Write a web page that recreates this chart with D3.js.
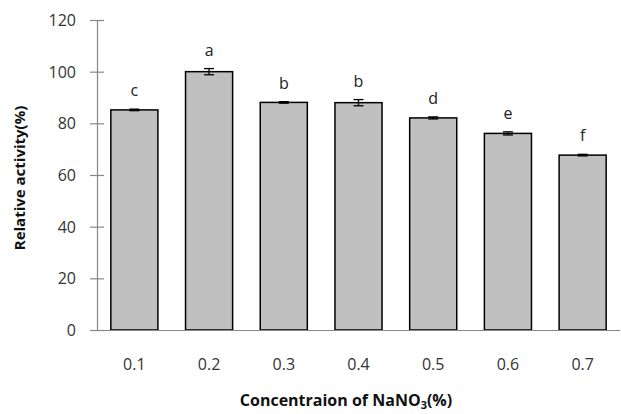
<!DOCTYPE html>
<html>
<head>
  <meta charset="utf-8">
  <script src="https://d3js.org/d3.v7.min.js"></script>
  <style>
    body { margin: 0; background: #fff; }
    text { font-family: "Open Sans", Lato, sans-serif; }
  </style>
</head>
<body>
  <script>
    // chart data
    var concentrations = ["0.1", "0.2", "0.3", "0.4", "0.5", "0.6", "0.7"];
    var activity = [85.2, 100, 88.1, 88, 82.1, 76.1, 67.7];
    var errors = [0.3, 1.2, 0.3, 1.2, 0.4, 0.6, 0.3];
    var letters = ["c", "a", "b", "b", "d", "e", "f"];
    var yTicks = [0, 20, 40, 60, 80, 100, 120];

    var width = 621, height = 414;

    var svg = d3.select("body")
      .append("svg")
        .attr("width", width)
        .attr("height", height);

    var x = d3.scaleBand()
      .domain(concentrations)
      .range([97, 620])
      .paddingInner(0.37)
      .paddingOuter(0.185);

    var y = d3.scaleLinear()
      .domain([0, 120])
      .range([330, 20]);

    // y axis
    var yAxis = d3.axisLeft(y)
      .tickValues(yTicks)
      .tickSize(0)
      .tickPadding(0);

    var gy = svg.append("g")
      .attr("transform", "translate(97,0)")
      .call(yAxis);
    gy.select(".domain").attr("stroke", "#868686").attr("stroke-width", 1.2);
    gy.selectAll(".tick line").remove();
    gy.selectAll(".tick").append("line")
      .attr("x1", -7).attr("x2", 7)
      .attr("stroke", "#868686").attr("stroke-width", 1.2);
    gy.selectAll(".tick text")
      .attr("x", -21)
      .attr("dy", "0.35em")
      .style("font-size", "16px")
      .attr("fill", "#333");

    // bars
    svg.selectAll("rect.bar")
      .data(activity)
      .enter()
      .append("rect")
        .attr("class", "bar")
        .attr("x", function (d, i) { return x(concentrations[i]); })
        .attr("y", function (d) { return y(d); })
        .attr("width", x.bandwidth())
        .attr("height", function (d) { return y(0) - y(d); })
        .attr("fill", "#c0c0c0")
        .attr("stroke", "#000")
        .attr("stroke-width", 1.5);

    // x axis line
    var xAxis = d3.axisBottom(x).tickSize(0).tickPadding(0);
    var gx = svg.append("g")
      .attr("transform", "translate(0,330)")
      .call(xAxis);
    gx.select(".domain").attr("d", "M97,0.5H620").attr("stroke", "#868686").attr("stroke-width", 1.2);
    gx.selectAll(".tick text")
      .attr("y", 34)
      .attr("dy", "0.35em")
      .style("font-size", "16px")
      .attr("fill", "#333");

    // error bars
    var eb = svg.selectAll("g.err")
      .data(activity)
      .enter()
      .append("g")
        .attr("class", "err")
        .attr("stroke", "#000")
        .attr("stroke-width", 1.3);
    eb.append("line")
      .attr("x1", function (d, i) { return x(concentrations[i]) + x.bandwidth() / 2; })
      .attr("x2", function (d, i) { return x(concentrations[i]) + x.bandwidth() / 2; })
      .attr("y1", function (d, i) { return y(d + errors[i]); })
      .attr("y2", function (d, i) { return y(d - errors[i]); });
    [1, -1].forEach(function (s) {
      eb.append("line")
        .attr("x1", function (d, i) { return x(concentrations[i]) + x.bandwidth() / 2 - 5; })
        .attr("x2", function (d, i) { return x(concentrations[i]) + x.bandwidth() / 2 + 5; })
        .attr("y1", function (d, i) { return y(d + s * errors[i]); })
        .attr("y2", function (d, i) { return y(d + s * errors[i]); });
    });

    // significance letters
    svg.selectAll("text.letter")
      .data(letters)
      .enter()
      .append("text")
        .attr("class", "letter")
        .attr("x", function (d, i) { return x(concentrations[i]) + x.bandwidth() / 2; })
        .attr("y", function (d, i) { return y(activity[i] + errors[i]) - 13; })
        .attr("text-anchor", "middle")
        .style("font-size", "16px")
        .attr("fill", "#222")
        .text(function (d) { return d; });

    // axis titles
    svg.append("text")
      .attr("transform", "translate(25,178) rotate(-90)")
      .attr("text-anchor", "middle")
      .style("font-size", "15px")
      .style("font-weight", "bold")
      .attr("fill", "#111")
      .text("Relative activity(%)");

    var xt = svg.append("text")
      .attr("x", 346)
      .attr("y", 406)
      .attr("text-anchor", "middle")
      .style("font-size", "16px")
      .style("font-weight", "bold")
      .attr("fill", "#111");
    xt.append("tspan").text("Concentraion of NaNO");
    xt.append("tspan").attr("dy", 3).style("font-size", "11px").text("3");
    xt.append("tspan").attr("dy", -3).text("(%)");
  </script>
</body>
</html>
